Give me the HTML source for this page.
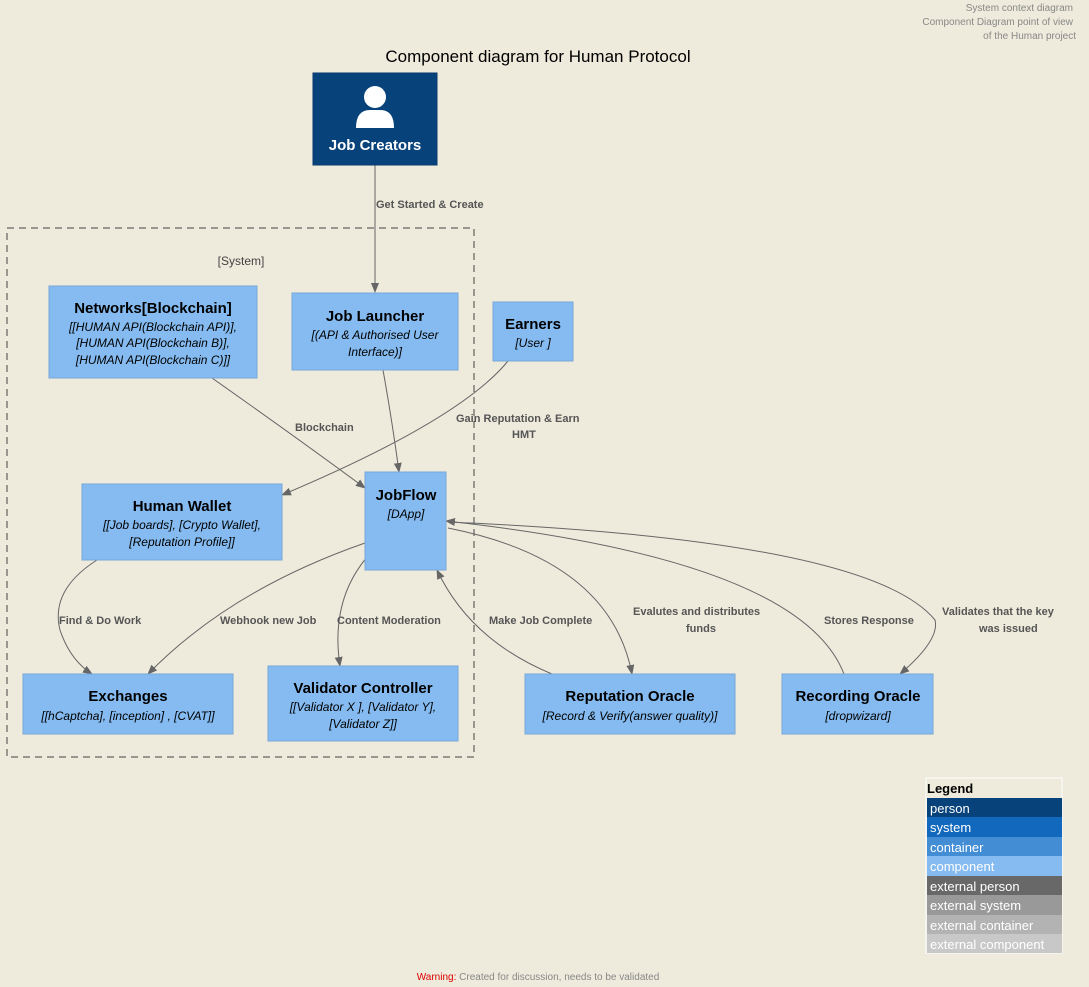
<!DOCTYPE html>
<html><head><meta charset="utf-8"><style>
html,body{margin:0;padding:0;background:#EEEADC;}
svg{display:block;font-family:"Liberation Sans",sans-serif;}
.t{font-weight:bold;font-size:15px;fill:#000;text-anchor:middle}
.s{font-style:italic;font-size:12px;fill:#000;text-anchor:middle}
.l{font-weight:bold;font-size:11px;fill:#555}
.e{fill:none;stroke:#666;stroke-width:1}
.c{fill:#85BBF0;stroke:#78A8D8;stroke-width:1}
</style></head><body>
<svg width="1089" height="987" viewBox="0 0 1089 987">
<defs><marker id="a" markerWidth="10" markerHeight="10" refX="9" refY="5" orient="auto" markerUnits="userSpaceOnUse"><path d="M0,1 L10,5 L0,9 Z" fill="#666"/></marker></defs>
<rect width="1089" height="987" fill="#EEEADC"/>
<text x="1073" y="11" font-size="10" fill="#888" text-anchor="end">System context diagram</text>
<text x="1073" y="25" font-size="10" fill="#888" text-anchor="end">Component Diagram point of view</text>
<text x="1076" y="39" font-size="10" fill="#888" text-anchor="end">of the Human project</text>
<text x="538" y="62" font-size="17" fill="#000" text-anchor="middle">Component diagram for Human Protocol</text>

<rect x="7" y="228" width="467" height="529" fill="none" stroke="#444" stroke-dasharray="7,5"/>
<text x="241" y="265" font-size="12" fill="#444" text-anchor="middle">[System]</text>

<!-- edges -->
<path class="e" d="M375,165 L375,292" marker-end="url(#a)"/>
<text class="l" x="376" y="208">Get Started &amp; Create</text>
<path class="e" d="M212,378 Q300,440 365,488" marker-end="url(#a)"/>
<text class="l" x="295" y="431">Blockchain</text>
<path class="e" d="M383,370 Q392,420 399,472" marker-end="url(#a)"/>
<path class="e" d="M508,361 Q460,420 282,495" marker-end="url(#a)"/>
<text class="l" x="456" y="422">Gain Reputation &amp; Earn</text>
<text class="l" x="512" y="438">HMT</text>
<path class="e" d="M97,560 Q50,590 60,630 Q70,660 92,674" marker-end="url(#a)"/>
<text class="l" x="59" y="624">Find &amp; Do Work</text>
<path class="e" d="M365,543 Q230,590 148,674" marker-end="url(#a)"/>
<text class="l" x="220" y="624">Webhook new Job</text>
<path class="e" d="M368,556 Q330,600 340,666" marker-end="url(#a)"/>
<text class="l" x="337" y="624">Content Moderation</text>
<path class="e" d="M552,674 Q470,640 437,570" marker-end="url(#a)"/>
<text class="l" x="489" y="624">Make Job Complete</text>
<path class="e" d="M448,528 Q610,560 632,674" marker-end="url(#a)"/>
<text class="l" x="633" y="615">Evalutes and distributes</text>
<text class="l" x="686" y="632">funds</text>
<path class="e" d="M844,674 Q800,560 446,521" marker-end="url(#a)"/>
<text class="l" x="824" y="624">Stores Response</text>
<path class="e" d="M448,522 Q870,540 935,620 Q940,640 900,674" marker-end="url(#a)"/>
<text class="l" x="942" y="615">Validates that the key</text>
<text class="l" x="979" y="632">was issued</text>

<!-- Job Creators -->
<rect x="313" y="73" width="124" height="92" fill="#08427B" stroke="#073B6F"/>
<circle cx="375" cy="97" r="11" fill="#fff"/>
<path d="M356,128 Q356,110 370,110 L380,110 Q394,110 394,128 Z" fill="#fff"/>
<text x="375" y="150" font-size="15" font-weight="bold" fill="#fff" text-anchor="middle">Job Creators</text>

<rect class="c" x="49" y="286" width="208" height="92"/>
<text class="t" x="153" y="313">Networks[Blockchain]</text>
<text class="s" x="153" y="331">[[HUMAN API(Blockchain API)],</text>
<text class="s" x="153" y="347">[HUMAN API(Blockchain B)],</text>
<text class="s" x="153" y="364">[HUMAN API(Blockchain C)]]</text>

<rect class="c" x="292" y="293" width="166" height="77"/>
<text class="t" x="375" y="321">Job Launcher</text>
<text class="s" x="375" y="339">[(API &amp; Authorised User</text>
<text class="s" x="375" y="356">Interface)]</text>

<rect class="c" x="493" y="302" width="80" height="59"/>
<text class="t" x="533" y="329">Earners</text>
<text class="s" x="533" y="347">[User ]</text>

<rect class="c" x="365" y="472" width="81" height="98"/>
<text class="t" x="406" y="500">JobFlow</text>
<text class="s" x="406" y="518">[DApp]</text>

<rect class="c" x="82" y="484" width="200" height="76"/>
<text class="t" x="182" y="511">Human Wallet</text>
<text class="s" x="182" y="529">[[Job boards], [Crypto Wallet],</text>
<text class="s" x="182" y="546">[Reputation Profile]]</text>

<rect class="c" x="23" y="674" width="210" height="60"/>
<text class="t" x="128" y="701">Exchanges</text>
<text class="s" x="128" y="720">[[hCaptcha], [inception] , [CVAT]]</text>

<rect class="c" x="268" y="666" width="190" height="75"/>
<text class="t" x="363" y="693">Validator Controller</text>
<text class="s" x="363" y="711">[[Validator X ], [Validator Y],</text>
<text class="s" x="363" y="728">[Validator Z]]</text>

<rect class="c" x="525" y="674" width="210" height="60"/>
<text class="t" x="630" y="701">Reputation Oracle</text>
<text class="s" x="630" y="720">[Record &amp; Verify(answer quality)]</text>

<rect class="c" x="782" y="674" width="151" height="60"/>
<text class="t" x="858" y="701">Recording Oracle</text>
<text class="s" x="858" y="720">[dropwizard]</text>

<!-- legend -->
<rect x="926" y="778" width="136" height="175" fill="none" stroke="#fff"/>
<text x="927" y="793" font-size="13" font-weight="bold" fill="#000">Legend</text>
<rect x="927" y="798" width="135" height="19" fill="#08427B"/>
<rect x="927" y="817" width="135" height="20" fill="#1168BD"/>
<rect x="927" y="837" width="135" height="19" fill="#438DD5"/>
<rect x="927" y="856" width="135" height="20" fill="#85BBF0"/>
<rect x="927" y="876" width="135" height="19" fill="#686868"/>
<rect x="927" y="895" width="135" height="20" fill="#999999"/>
<rect x="927" y="915" width="135" height="19" fill="#B3B3B3"/>
<rect x="927" y="934" width="135" height="19" fill="#C8C8C8"/>
<g font-size="13" fill="#fff">
<text x="930" y="813">person</text>
<text x="930" y="832">system</text>
<text x="930" y="852">container</text>
<text x="930" y="871">component</text>
<text x="930" y="891">external person</text>
<text x="930" y="910">external system</text>
<text x="930" y="930">external container</text>
<text x="930" y="949">external component</text>
</g>
<text x="538" y="980" font-size="10" fill="#888" text-anchor="middle"><tspan fill="#d00">Warning:</tspan> Created for discussion, needs to be validated</text>
</svg>
</body></html>
